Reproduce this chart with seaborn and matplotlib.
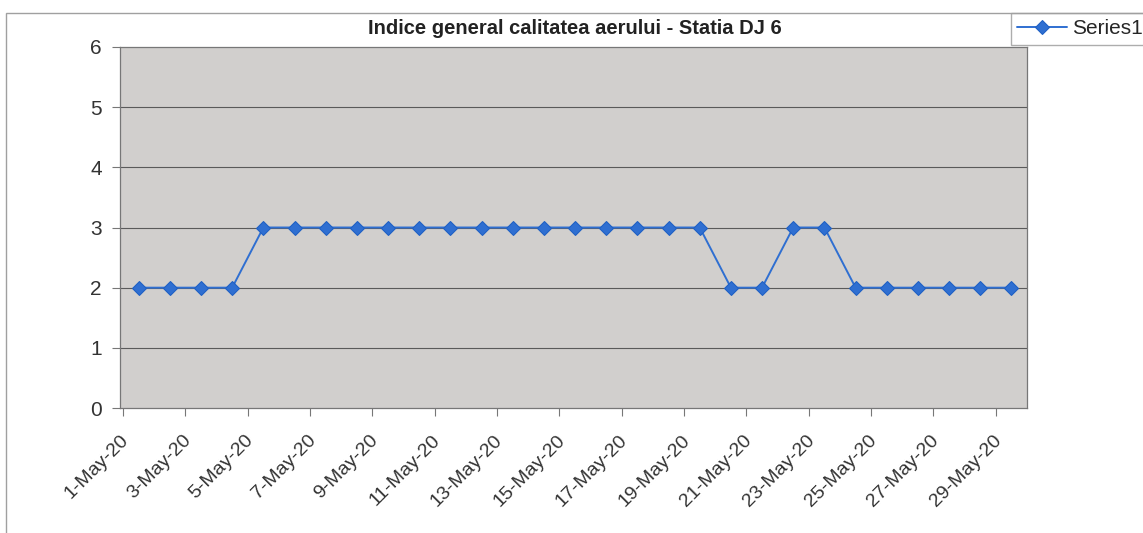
import matplotlib
matplotlib.use("Agg")
import matplotlib.pyplot as plt
import seaborn as sns
import pandas as pd
from matplotlib.patches import Rectangle

date_labels = ["1-May-20", "2-May-20", "3-May-20", "4-May-20", "5-May-20", "6-May-20",
               "7-May-20", "8-May-20", "9-May-20", "10-May-20", "11-May-20", "12-May-20",
               "13-May-20", "14-May-20", "15-May-20", "16-May-20", "17-May-20", "18-May-20",
               "19-May-20", "20-May-20", "21-May-20", "22-May-20", "23-May-20", "24-May-20",
               "25-May-20", "26-May-20", "27-May-20", "28-May-20", "29-May-20"]
values = [2, 2, 2, 2, 3, 3, 3, 3, 3, 3, 3, 3, 3, 3, 3, 3, 3, 3, 3,
          2, 2, 3, 3, 2, 2, 2, 2, 2, 2]
series_name = "Series1"
title = "Indice general calitatea aerului - Statia DJ 6"
y_ticks = [0, 1, 2, 3, 4, 5, 6]

sns.set_style("white")
plt.rcParams["font.family"] = ["Liberation Sans", "DejaVu Sans"]

df = pd.DataFrame({"pos": range(len(values)), "value": values, "series": series_name})

W, H = 1143, 533
fig = plt.figure(figsize=(W / 100, H / 100), dpi=100)
fig.patch.set_facecolor("white")
ax = fig.add_axes([120 / W, 1 - 408 / H, (1027 - 120) / W, (408 - 47) / H])
ax.set_facecolor("#d1cfcd")

sns.lineplot(data=df, x="pos", y="value", hue="series", palette=["#2f6fd1"],
             marker="D", markersize=7, markeredgecolor="#1d5fc4", linewidth=1.4,
             ax=ax, legend=True, zorder=3)

n = len(values)
ax.set_xlim(-0.5, n - 0.5)
ax.set_ylim(0, 6)
ax.set_yticks(y_ticks)
ax.set_yticklabels([str(t) for t in y_ticks])
ax.tick_params(axis="y", labelsize=15, colors="#333333", length=6, width=0.8,
               direction="out", left=True, pad=7, color="#777777")
for t in y_ticks[1:-1]:
    ax.axhline(t, color="#5a5a5a", linewidth=0.8, zorder=1)

label_pos = [i - 0.6 for i in range(0, n, 2)]
ax.set_xticks(label_pos)
ax.set_xticklabels([date_labels[i] for i in range(0, n, 2)], rotation=45, ha="right",
                   rotation_mode="anchor", fontsize=14, color="#333333")
ax.tick_params(axis="x", which="major", length=0, pad=17)
ax.set_xticks([i - 0.5 for i in range(0, n, 2)], minor=True)
ax.tick_params(axis="x", which="minor", length=6, width=0.8, color="#777777", bottom=True)
ax.set_xlabel("")
ax.set_ylabel("")
for s in ax.spines.values():
    s.set_color("#777777")
    s.set_linewidth(0.9)

fig.text(575 / W, 1 - 28 / H, title, ha="center", va="center", fontsize=14.5,
         fontweight="bold", color="#222222")

fig.patches.append(Rectangle((6 / W, -0.1), 1.2, 1 - 13 / H + 0.1, transform=fig.transFigure,
                             fill=False, edgecolor="#a0a0a0", linewidth=1, zorder=0))

h, l = ax.get_legend_handles_labels()
ax.legend(h, l, loc="upper left", bbox_to_anchor=(1011 / W, 1 - 13 / H),
          bbox_transform=fig.transFigure, frameon=True, fancybox=False,
          edgecolor="#999999", fontsize=15, handlelength=2.4, borderpad=0.3,
          handletextpad=0.22, borderaxespad=0)

fig.savefig("out.png", dpi=100, facecolor="white")
